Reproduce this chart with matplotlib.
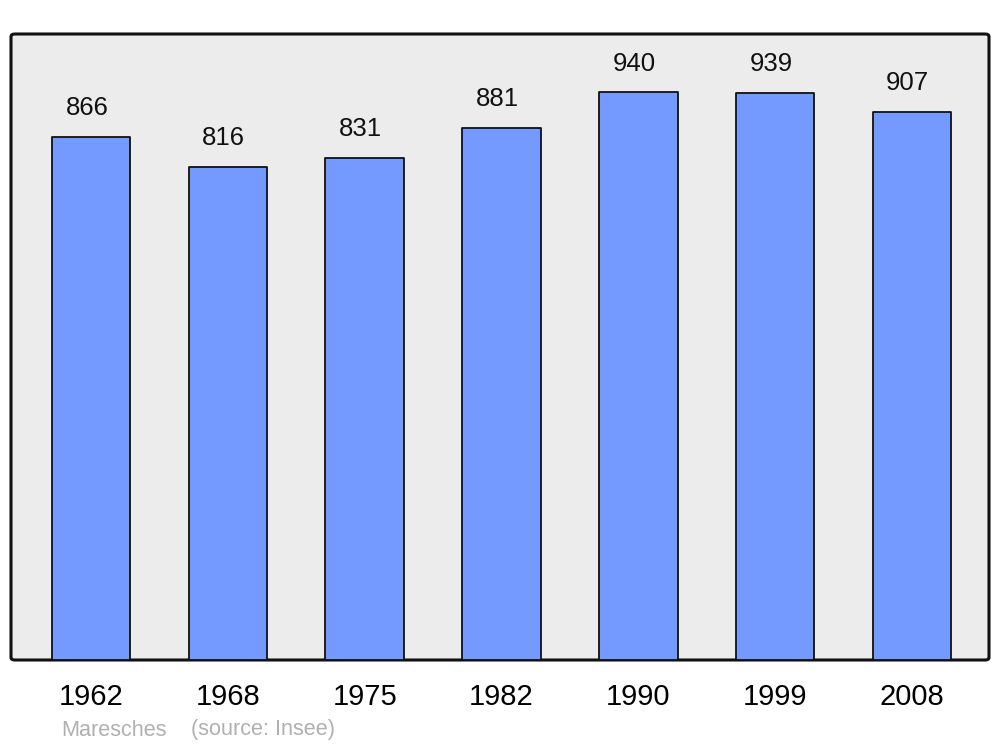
import matplotlib
matplotlib.use('Agg')
import matplotlib.pyplot as plt
from matplotlib.patches import FancyBboxPatch

years = ['1962', '1968', '1975', '1982', '1990', '1999', '2008']
population = [866, 816, 831, 881, 940, 939, 907]

plt.rcParams['font.family'] = ['Liberation Sans', 'DejaVu Sans']

fig = plt.figure(figsize=(10, 7.47), dpi=100)
ax = fig.add_axes([11/1000, 87/747, 978/1000, 626/747])
ax.set_facecolor('none')

# rounded frame behind the bars
frame = FancyBboxPatch((0, 0), 1, 1, boxstyle='round,pad=0,rounding_size=0.004',
                       transform=ax.transAxes, facecolor='#ececec', edgecolor='#111111',
                       lw=2.2, zorder=0, clip_on=False)
ax.add_patch(frame)
for s in ax.spines.values():
    s.set_visible(False)

x = list(range(len(years)))
ax.bar(x, population, width=0.575, color='#7499ff', edgecolor='#111111',
       lw=1.3, joinstyle='round', zorder=2)

for xi, v in zip(x, population):
    ax.annotate(str(v), (xi, v), xytext=(-3, 20.5), textcoords='offset points',
                ha='center', va='center', fontsize=18.5, color='#111111')

ax.set_xlim(-0.585, 6.563)
ax.set_ylim(0, 1036)
ax.set_yticks([])
ax.set_xticks(x)
ax.set_xticklabels(years, fontsize=21)
ax.tick_params(axis='x', length=0, pad=16.5)

fig.text(61/1000, 1 - 730/747, 'Maresches', color='#b0b0b0', fontsize=15.6, va='center')
fig.text(191/1000, 1 - 730/747, '(source: Insee)', color='#b0b0b0', fontsize=15.6, va='center')

fig.savefig('out.png', dpi=100, facecolor='white')
